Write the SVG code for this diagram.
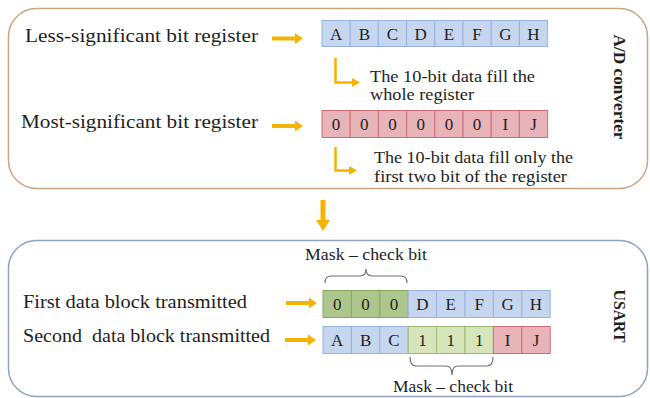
<svg xmlns="http://www.w3.org/2000/svg" width="650" height="398" viewBox="0 0 650 398">
<defs>
<style>
.t{font-family:"Liberation Serif","Times New Roman",serif;fill:#1e1e1e}
.lbl{font-size:19px}
.note{font-size:16px}
.cell{font-size:17px;text-anchor:middle}
.side{font-size:16px;font-weight:bold;text-anchor:middle}
.b{fill:#c6d6ef;stroke:#97b3e0;stroke-width:1}
.r{fill:#e6b4b9;stroke:#d26b76;stroke-width:1}
.g{fill:#adc68b;stroke:#88a862;stroke-width:1}
.lg{fill:#d6e6ba;stroke:#9dba72;stroke-width:1}
.arr{fill:#f5b301}
.elb{fill:none;stroke:#f5b301;stroke-width:2.5}
.brace{fill:none;stroke:#707070;stroke-width:1.2}
</style>
</defs>
<rect width="650" height="398" fill="#ffffff"/>

<g id="ad-converter">
<rect x="8.5" y="8.5" width="639" height="180" rx="28" ry="28" fill="none" stroke="#c9a584" stroke-width="1.5"/>
<text class="t side" transform="translate(614,87) rotate(90)" textLength="105" lengthAdjust="spacingAndGlyphs">A/D converter</text>
</g>

<g id="lsb-label">
<text class="t lbl" x="25" y="42" textLength="233" lengthAdjust="spacingAndGlyphs">Less-significant bit register</text>
</g>
<g id="msb-label">
<text class="t lbl" x="21" y="128" textLength="237" lengthAdjust="spacingAndGlyphs">Most-significant bit register</text>
</g>

<g id="lsb-register">
<rect class="b" x="322" y="20.5" width="28.2" height="26"/>
<rect class="b" x="350.2" y="20.5" width="28.2" height="26"/>
<rect class="b" x="378.4" y="20.5" width="28.2" height="26"/>
<rect class="b" x="406.6" y="20.5" width="28.2" height="26"/>
<rect class="b" x="434.8" y="20.5" width="28.2" height="26"/>
<rect class="b" x="463" y="20.5" width="28.2" height="26"/>
<rect class="b" x="491.2" y="20.5" width="28.2" height="26"/>
<rect class="b" x="519.4" y="20.5" width="28.2" height="26"/>
<text class="t cell" x="336.1" y="40">A</text>
<text class="t cell" x="364.3" y="40">B</text>
<text class="t cell" x="392.5" y="40">C</text>
<text class="t cell" x="420.7" y="40">D</text>
<text class="t cell" x="448.9" y="40">E</text>
<text class="t cell" x="477.1" y="40">F</text>
<text class="t cell" x="505.3" y="40">G</text>
<text class="t cell" x="533.5" y="40">H</text>
</g>

<g id="msb-register">
<rect class="r" x="322" y="110.5" width="28.2" height="27"/>
<rect class="r" x="350.2" y="110.5" width="28.2" height="27"/>
<rect class="r" x="378.4" y="110.5" width="28.2" height="27"/>
<rect class="r" x="406.6" y="110.5" width="28.2" height="27"/>
<rect class="r" x="434.8" y="110.5" width="28.2" height="27"/>
<rect class="r" x="463" y="110.5" width="28.2" height="27"/>
<rect class="r" x="491.2" y="110.5" width="28.2" height="27"/>
<rect class="r" x="519.4" y="110.5" width="28.2" height="27"/>
<text class="t cell" x="336.1" y="130">0</text>
<text class="t cell" x="364.3" y="130">0</text>
<text class="t cell" x="392.5" y="130">0</text>
<text class="t cell" x="420.7" y="130">0</text>
<text class="t cell" x="448.9" y="130">0</text>
<text class="t cell" x="477.1" y="130">0</text>
<text class="t cell" x="505.3" y="130">I</text>
<text class="t cell" x="533.5" y="130">J</text>
</g>

<g id="note-lsb">
<text class="t note" x="370" y="82" textLength="165" lengthAdjust="spacingAndGlyphs">The 10-bit data fill the</text>
<text class="t note" x="370" y="100" textLength="104" lengthAdjust="spacingAndGlyphs">whole register</text>
</g>
<g id="note-msb">
<text class="t note" x="374" y="163" textLength="199" lengthAdjust="spacingAndGlyphs">The 10-bit data fill only the</text>
<text class="t note" x="374" y="182" textLength="193" lengthAdjust="spacingAndGlyphs">first two bit of the register</text>
</g>

<g id="usart">
<rect x="8.5" y="240.5" width="639" height="156" rx="28" ry="28" fill="none" stroke="#8fa3c3" stroke-width="1.5"/>
<text class="t side" transform="translate(614,316) rotate(90)" textLength="53" lengthAdjust="spacingAndGlyphs">USART</text>
</g>

<g id="first-label">
<text class="t lbl" x="23" y="308" textLength="224" lengthAdjust="spacingAndGlyphs">First data block transmitted</text>
</g>
<g id="second-label">
<text class="t lbl" x="23" y="342" textLength="247" lengthAdjust="spacingAndGlyphs" style="white-space:pre" xml:space="preserve">Second  data block transmitted</text>
</g>

<g id="first-block">
<rect class="g" x="323" y="290.5" width="28.4" height="27"/>
<rect class="g" x="351.4" y="290.5" width="28.4" height="27"/>
<rect class="g" x="379.8" y="290.5" width="28.4" height="27"/>
<rect class="b" x="408.2" y="290.5" width="28.4" height="27"/>
<rect class="b" x="436.6" y="290.5" width="28.4" height="27"/>
<rect class="b" x="465" y="290.5" width="28.4" height="27"/>
<rect class="b" x="493.4" y="290.5" width="28.4" height="27"/>
<rect class="b" x="521.8" y="290.5" width="28.4" height="27"/>
<text class="t cell" x="337.2" y="310">0</text>
<text class="t cell" x="365.6" y="310">0</text>
<text class="t cell" x="394" y="310">0</text>
<text class="t cell" x="422.4" y="310">D</text>
<text class="t cell" x="450.8" y="310">E</text>
<text class="t cell" x="479.2" y="310">F</text>
<text class="t cell" x="507.6" y="310">G</text>
<text class="t cell" x="536" y="310">H</text>
</g>

<g id="second-block">
<rect class="b" x="323" y="326.5" width="28.4" height="27"/>
<rect class="b" x="351.4" y="326.5" width="28.4" height="27"/>
<rect class="b" x="379.8" y="326.5" width="28.4" height="27"/>
<rect class="lg" x="408.2" y="326.5" width="28.4" height="27"/>
<rect class="lg" x="436.6" y="326.5" width="28.4" height="27"/>
<rect class="lg" x="465" y="326.5" width="28.4" height="27"/>
<rect class="r" x="493.4" y="326.5" width="28.4" height="27"/>
<rect class="r" x="521.8" y="326.5" width="28.4" height="27"/>
<text class="t cell" x="337.2" y="346">A</text>
<text class="t cell" x="365.6" y="346">B</text>
<text class="t cell" x="394" y="346">C</text>
<text class="t cell" x="422.4" y="346">1</text>
<text class="t cell" x="450.8" y="346">1</text>
<text class="t cell" x="479.2" y="346">1</text>
<text class="t cell" x="507.6" y="346">I</text>
<text class="t cell" x="536" y="346">J</text>
</g>

<g id="mask-top">
<text class="t note" x="366" y="260" text-anchor="middle" textLength="122" lengthAdjust="spacingAndGlyphs">Mask – check bit</text>
<path class="brace" d="M325,283 Q325,276 331,276 L360,276 Q366,276 366,269 Q366,276 372,276 L401,276 Q407,276 407,283"/>
</g>
<g id="mask-bottom">
<text class="t note" x="453" y="392" text-anchor="middle" textLength="120" lengthAdjust="spacingAndGlyphs">Mask – check bit</text>
<path class="brace" d="M410,357 Q410,366 416,366 L446,366 Q452,366 452,375 Q452,366 458,366 L487,366 Q493,366 493,357"/>
</g>

<g id="connectors">
<path class="arr" d="M272,36.5 H295 V33 L303,38.5 L295,44 V40.5 H272 Z"/>
<path class="arr" d="M272,124 H295 V120.5 L303,126 L295,131.5 V128 H272 Z"/>
<path class="arr" d="M286,301 H309 V297.5 L317,303 L309,308.5 V305 H286 Z"/>
<path class="arr" d="M285,338 H308 V334.5 L316,340 L308,345.5 V342 H285 Z"/>
<path class="arr" d="M320.5,200 H325.5 V220 H330 L323,231 L316,220 H320.5 Z"/>
<path class="elb" d="M335.5,58 V82.5 H353"/>
<path class="arr" d="M352,78 L360,82.5 L352,87 Z"/>
<path class="elb" d="M335.5,147 V170.5 H350"/>
<path class="arr" d="M349,166 L357,170.5 L349,175 Z"/>
</g>
</svg>
